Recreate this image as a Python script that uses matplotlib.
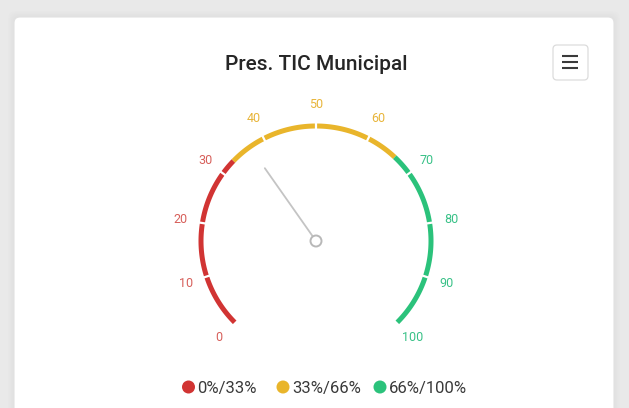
import matplotlib
matplotlib.use("Agg")
import matplotlib.pyplot as plt
import numpy as np
from matplotlib.patches import Circle, FancyBboxPatch

plt.rcParams['font.family'] = ['Roboto', 'DejaVu Sans']

# data
title = "Pres. TIC Municipal"
value = 37
gauge_min, gauge_max = 0, 100
tick_values = [0, 10, 20, 30, 40, 50, 60, 70, 80, 90, 100]
band_edges = [(0, 33), (33, 66), (66, 100)]
band_names = ["0%/33%", "33%/66%", "66%/100%"]
band_colors = ["#d13433", "#e9b52b", "#2bc27b"]
label_colors = ["#d75f5a", "#e8b53a", "#38c187"]

W, H = 629, 408
fig = plt.figure(figsize=(W / 100, H / 100), dpi=100)
fig.patch.set_facecolor("#e9e9e9")
ax = fig.add_axes([0, 0, 1, 1])
ax.set_xlim(0, W)
ax.set_ylim(H, 0)
ax.axis("off")
ax.set_aspect("equal")

# card with soft shadow
for i, a in enumerate([0.03, 0.04, 0.05, 0.06]):
    pad = 6 - i * 1.5
    ax.add_patch(FancyBboxPatch((14 - pad, 17 - pad), 600 + 2 * pad, 420,
                                boxstyle="round,pad=0,rounding_size=8",
                                fc="#c8c8c8", ec="none", alpha=a))
ax.add_patch(FancyBboxPatch((14, 17), 600, 420, boxstyle="round,pad=0,rounding_size=6",
                            fc="white", ec="#e2e2e2", lw=0.8))

ax.text(316, 65, title, ha="center", va="center", fontsize=15,
        fontweight="medium", color="#262626")

# menu button
ax.add_patch(FancyBboxPatch((553, 45), 35, 35, boxstyle="round,pad=0,rounding_size=4",
                            fc="white", ec="#dcdcdc", lw=0.9))
for yy in [56, 62, 68]:
    ax.plot([562, 578], [yy, yy], color="#3a3a3a", lw=1.5, solid_capstyle="butt")

# gauge
cx, cy = 316, 241
r_arc = 115
arc_w = 5
start_deg, sweep = 225, -270


def ang(v):
    return np.radians(start_deg + sweep * (v - gauge_min) / (gauge_max - gauge_min))


def pt(v, r):
    a = ang(v)
    return cx + r * np.cos(a), cy - r * np.sin(a)


for (lo, hi), c in zip(band_edges, band_colors):
    vs = np.linspace(lo, hi, 120)
    xs, ys = zip(*[pt(v, r_arc) for v in vs])
    ax.plot(xs, ys, color=c, lw=arc_w * 0.72, solid_capstyle="butt")

# white tick gaps
for v in tick_values[1:-1]:
    x0, y0 = pt(v, r_arc - 5)
    x1, y1 = pt(v, r_arc + 5)
    ax.plot([x0, x1], [y0, y1], color="white", lw=1.6)

# tick labels
for v in tick_values:
    idx = 0 if v <= 30 else (1 if v < 66 else 2)
    r_lab = 137
    x, y = pt(v, r_lab)
    ax.text(x, y, str(v), ha="center", va="center", fontsize=9,
            color=label_colors[idx])

# needle
nx, ny = pt(value, 89)
ax.plot([cx, nx], [cy, ny], color="#c4c4c4", lw=1.3, solid_capstyle="round", zorder=3)
ax.add_patch(Circle((cx, cy), 5.5, fc="white", ec="#b8b8b8", lw=1.4, zorder=4))

# legend
leg_x = [188.5, 283, 380]
for x, name, c in zip(leg_x, band_names, band_colors):
    ax.add_patch(Circle((x, 387), 6.5, fc=c, ec="none"))
    ax.text(x + 9, 389, name, ha="left", va="center", fontsize=12, color="#3a3a3a")

fig.savefig("out.png", dpi=100, facecolor=fig.get_facecolor())
